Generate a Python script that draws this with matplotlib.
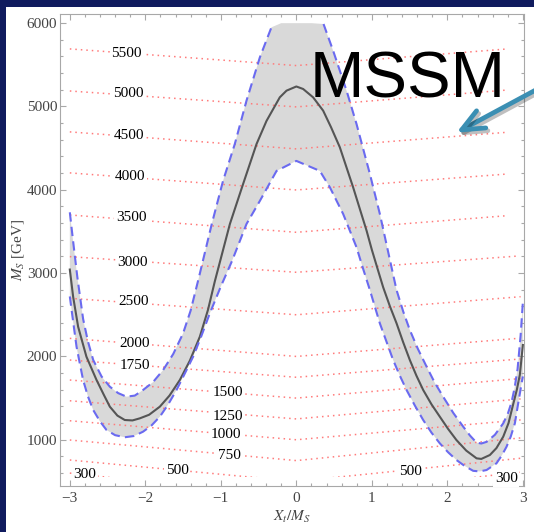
import numpy as np
import matplotlib

matplotlib.use("Agg")
import matplotlib.pyplot as plt
import matplotlib.patheffects as pe
from matplotlib.patches import FancyArrowPatch, Rectangle
from matplotlib.ticker import MultipleLocator

plt.rcParams["font.family"] = ["Liberation Serif", "DejaVu Serif"]
plt.rcParams["mathtext.fontset"] = "stix"

# central curve
xc = [-3.00, -2.956, -2.89, -2.78, -2.646, -2.55, -2.47, -2.37, -2.272, -2.17,
      -2.073, -1.95, -1.808, -1.68, -1.543, -1.41, -1.278, -1.17, -1.08, -0.88,
      -0.705, -0.527, -0.395, -0.219, -0.13, 0.0, 0.09, 0.222, 0.355, 0.46,
      0.576, 0.752, 0.93, 1.0, 1.083, 1.15, 1.24, 1.327, 1.415, 1.503,
      1.59, 1.68, 1.79, 1.90, 2.01, 2.12, 2.25, 2.387, 2.45, 2.563,
      2.65, 2.74, 2.81, 2.87, 2.92, 2.96, 3.0]
mc = [3043, 2717, 2357, 1997, 1717, 1540, 1397, 1290, 1237, 1232,
      1257, 1300, 1397, 1530, 1717, 1950, 2237, 2560, 2900, 3590,
      4070, 4550, 4827, 5110, 5190, 5240, 5210, 5110, 4950, 4750,
      4510, 4030, 3510, 3280, 3030, 2830, 2600, 2398, 2170, 1957,
      1770, 1597, 1425, 1277, 1130, 997, 870, 777, 770, 817,
      900, 1037, 1200, 1420, 1600, 1780, 2137]

# upper edge of the band
xu = [-3.0, -2.956, -2.90, -2.824, -2.76, -2.69, -2.58, -2.47, -2.36, -2.25,
      -2.14, -2.03, -1.90, -1.764, -1.63, -1.50, -1.40, -1.29, -1.12, -0.97,
      -0.815, -0.66, -0.483, -0.33, -0.2, 0.0, 0.2, 0.36, 0.487, 0.665,
      0.797, 0.974, 1.106, 1.24, 1.327, 1.415, 1.503, 1.61, 1.725, 1.83,
      1.944, 2.08, 2.21, 2.30, 2.387, 2.45, 2.52, 2.63, 2.74, 2.80,
      2.85, 2.89, 2.93, 2.97, 3.0]
mu = [3730, 3380, 2950, 2450, 2180, 1957, 1760, 1637, 1560, 1517,
      1530, 1597, 1690, 1837, 2030, 2277, 2550, 2950, 3590, 4110,
      4550, 5070, 5590, 5950, 6350, 6500, 6350, 5990, 5670, 5190,
      4790, 4190, 3710, 3155, 2797, 2540, 2317, 2090, 1877, 1690,
      1517, 1320, 1157, 1050, 965, 955, 975, 1060, 1197, 1310,
      1450, 1620, 1850, 2250, 2650]

# lower edge of the band
xl = [-3.0, -2.965, -2.911, -2.86, -2.824, -2.76, -2.69, -2.60, -2.514, -2.40,
      -2.272, -2.15, -2.03, -1.92, -1.808, -1.70, -1.587, -1.48, -1.367, -1.26,
      -1.146, -1.0, -0.85, -0.66, -0.483, -0.262, 0.0, 0.311, 0.444, 0.62,
      0.797, 0.885, 0.974, 1.106, 1.282, 1.37, 1.46, 1.57, 1.68, 1.79,
      1.90, 2.01, 2.12, 2.23, 2.342, 2.43, 2.52, 2.65, 2.72, 2.784,
      2.84, 2.894, 2.938, 2.983, 3.0]
ml = [2720, 2480, 2117, 1880, 1717, 1520, 1357, 1220, 1117, 1055,
      1030, 1045, 1097, 1170, 1277, 1420, 1597, 1790, 1997, 2240,
      2517, 2840, 3150, 3590, 3867, 4227, 4347, 4227, 4030, 3710,
      3310, 3050, 2797, 2397, 1957, 1770, 1597, 1410, 1237, 1085,
      957, 850, 757, 685, 627, 620, 637, 717, 810, 917,
      1040, 1197, 1437, 1677, 1760]

PLOT_TOP = 6000
CONTOUR_FLOOR = 550

# dotted contours: M at X=-3, M at X=0, M at right end, right end X
levels = [5500, 5000, 4500, 4000, 3500, 3000, 2500, 2000, 1750, 1500, 1250, 1000, 750, 500, 300]
c_left = [5691, 5186, 4695, 4203, 3698, 3198, 2698, 2217, 1957, 1717, 1468, 1228, 997, 757, 600]
c_mid = [5491, 4995, 4491, 3998, 3490, 3010, 2500, 2000, 1750, 1500, 1250, 1000, 750, 500, 300]
c_right = [5691, 5198, 4691, 4190, 3690, 3206, 2717, 2218, 1970, 1735, 1490, 1238, 1022, 778, 616]
c_xend = [2.8, 2.8, 2.8, 2.8, 2.8, 2.95, 2.97, 2.95, 2.97, 2.97, 2.97, 2.97, 2.97, 2.97, 3.0]

# contour labels
lab_text = ["5500", "5000", "4500", "4000", "3500", "3000", "2500", "2000", "1750",
            "1500", "1250", "1000", "750", "500", "300", "500", "300"]
lab_x = [-2.25, -2.23, -2.22, -2.20, -2.19, -2.17, -2.16, -2.14, -2.14,
         -0.91, -0.91, -0.93, -0.89, -1.575, -2.80, 1.51, 2.78]
lab_m = [5640, 5151, 4650, 4158, 3670, 3130, 2657, 2157, 1897,
         1573, 1285, 1065, 813, 633, 585, 620, 532]

fig = plt.figure(figsize=(5.34, 5.32), dpi=100, facecolor="#101b5e")
fig.patches.append(Rectangle((6 / 534, 0), 1, 1 - 7 / 532, transform=fig.transFigure,
                             facecolor="white", edgecolor="none", zorder=-5))
ax = fig.add_axes([60 / 534, 1 - 486 / 532, 464 / 534, 472 / 532])
ax.set_facecolor("white")

# band
mu_arr = np.array(mu, dtype=float)
poly_x = np.concatenate([xu, xl[::-1]])
poly_m = np.concatenate([np.minimum(mu_arr, PLOT_TOP), np.array(ml[::-1], dtype=float)])
ax.fill(poly_x, poly_m, color="#d9d9d9", lw=0, zorder=1)

# contours
floor_clip = Rectangle((-4, CONTOUR_FLOOR), 8, 10000, transform=ax.transData)
for a, b, c, xe in zip(c_left, c_mid, c_right, c_xend):
    (ln,) = ax.plot([-3, 0, xe], [a, b, c], color="#ff7b7b", lw=1.1,
                    linestyle=(0, (1, 2.6)), zorder=2)
    ln.set_clip_path(floor_clip)

for t, x, m in zip(lab_text, lab_x, lab_m):
    ax.text(x, m, t, fontsize=11, ha="center", va="center", color="black", zorder=3,
            bbox=dict(boxstyle="square,pad=0.1", fc="white", ec="none"))

ax.plot(xc, mc, color="#555555", lw=1.5, zorder=4, solid_joinstyle="round")
ax.plot(xu, np.ma.masked_greater(mu_arr, PLOT_TOP - 1), color="#6a6af0", lw=1.5,
        dashes=(4.5, 2.5), zorder=5)
ax.plot(xl, ml, color="#6a6af0", lw=1.5, dashes=(4.5, 2.5), zorder=5)

ax.set_xlim(-3.13, 3.015)
ax.set_ylim(445, 6110)
ax.xaxis.set_major_locator(MultipleLocator(1))
ax.xaxis.set_minor_locator(MultipleLocator(0.2))
ax.yaxis.set_major_locator(MultipleLocator(1000))
ax.yaxis.set_minor_locator(MultipleLocator(200))
ax.tick_params(which="both", direction="in", top=True, right=True,
               color="#a8a8a8", labelcolor="#444444", labelsize=11, width=0.8)
ax.tick_params(which="major", length=4.5)
ax.tick_params(which="minor", length=2.5)
ax.tick_params(axis="y", pad=2)
ax.tick_params(axis="x", pad=4)
for s in ax.spines.values():
    s.set_color("#a8a8a8")
    s.set_linewidth(0.8)

ax.set_ylabel(r"$M_S$ [GeV]", fontsize=11, color="#444444", labelpad=0.5)
ax.set_xlabel(r"$X_t/M_S$", fontsize=11, color="#444444", labelpad=3)

fig.text(408 / 534, 1 - 97 / 532, "MSSM", fontsize=47, family="Liberation Sans",
         ha="center", va="baseline", color="black", zorder=10)

arrow = FancyArrowPatch((545 / 534, 1 - 85 / 532), (454 / 534, 1 - 134 / 532),
                        transform=fig.transFigure,
                        arrowstyle="->,head_length=1.6,head_width=0.7",
                        mutation_scale=10, lw=3.4, color="#3b8fb3",
                        capstyle="round", joinstyle="round", zorder=10)
arrow.set_path_effects([pe.SimpleLineShadow(offset=(1.5, -2), shadow_color="k", alpha=0.25),
                        pe.Normal()])
fig.patches.append(arrow)

fig.savefig("out.png", dpi=100, facecolor=fig.get_facecolor())
